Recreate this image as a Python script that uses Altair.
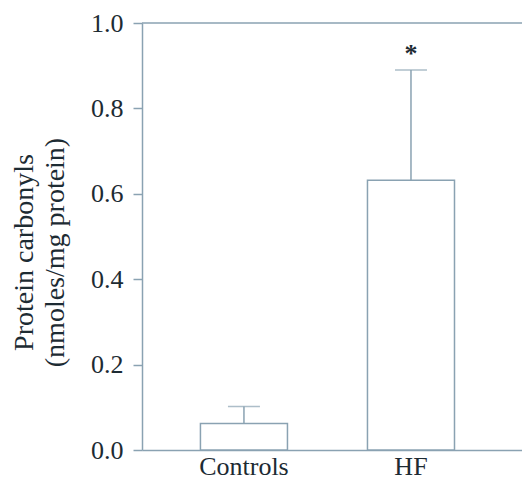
import altair as alt
import pandas as pd

groups = ["Controls", "HF"]
means = [0.062, 0.632]
errors = [0.040, 0.258]
marks = ["", "*"]
y_ticks = [0.0, 0.2, 0.4, 0.6, 0.8, 1.0]

df = pd.DataFrame({"group": groups, "mean": means, "err": errors, "mark": marks})
df["upper"] = df["mean"] + df["err"]

LINE = "#8aa2b2"
TEXT = "#1d2b33"
FONT = "Liberation Serif"

x = alt.X(
    "group:N", sort=groups, title=None,
    scale=alt.Scale(paddingInner=0.479, paddingOuter=0.377, align=0.464),
    axis=alt.Axis(labelAngle=0, labelFont=FONT, labelFontSize=26, labelColor=TEXT,
                  ticks=False, labelPadding=3, domainColor=LINE, domainWidth=1.5),
)
yscale = alt.Scale(domain=[0, 1], nice=False)

base = alt.Chart(df).encode(x=x)

bars = base.mark_bar(fill="white", stroke=LINE, strokeWidth=1.5).encode(
    y=alt.Y("mean:Q", scale=yscale, title=["Protein carbonyls", "(nmoles/mg protein)"],
            axis=alt.Axis(values=y_ticks, format=".1f", grid=False, tickSize=9,
                          tickColor=LINE, tickWidth=1.5, domainColor=LINE, domainWidth=1.5,
                          labelFont=FONT, labelFontSize=26, labelColor=TEXT, labelPadding=10,
                          titleFont=FONT, titleFontSize=28, titleFontWeight="normal",
                          titleColor=TEXT, titlePadding=21, titleLineHeight=31, titleY=229))
)
err = base.mark_rule(color=LINE, strokeWidth=1.5).encode(
    y=alt.Y("mean:Q", scale=yscale), y2="upper:Q"
)
cap = base.mark_tick(color=LINE, size=32, thickness=1.5).encode(
    y=alt.Y("upper:Q", scale=yscale)
)
star = base.mark_text(dy=-16, fontSize=26, font=FONT, color=TEXT, fontWeight="bold").encode(
    y=alt.Y("upper:Q", scale=yscale), text="mark:N"
)
top = alt.Chart(pd.DataFrame({"v": [1.0]})).mark_rule(color=LINE, strokeWidth=1.5).encode(
    y=alt.Y("v:Q", scale=yscale)
)

chart = alt.layer(bars, err, cap, star, top).properties(
    width=380, height=427,
    autosize=alt.AutoSizeParams(type="none"),
    padding={"left": 134, "top": 15, "right": 0, "bottom": 36},
    background="white",
).configure_view(stroke=None)

chart.save("out.html", embed_options={"renderer": "svg", "actions": False})
